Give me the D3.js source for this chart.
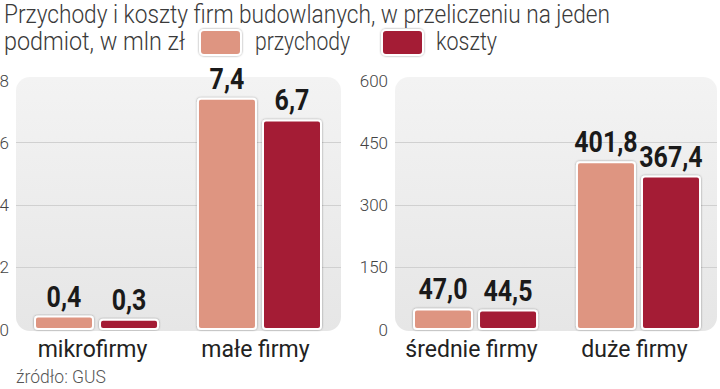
<!DOCTYPE html>
<html><head><meta charset="utf-8">
<script src="https://cdn.jsdelivr.net/npm/d3@7"></script>
<style>
body{margin:0;background:#fff;}
svg{display:block;}
</style></head>
<body><svg id="c" width="720" height="389"></svg>
<script>
const series = ["przychody", "koszty"];
const seriesColors = ["#de9581", "#a41c34"];
const leftCategories = ["mikrofirmy", "małe firmy"];
const leftPrzychody = [0.4, 7.4];
const leftKoszty = [0.3, 6.7];
const leftTicks = [0, 2, 4, 6, 8];
const rightCategories = ["średnie firmy", "duże firmy"];
const rightPrzychody = [47.0, 401.8];
const rightKoszty = [44.5, 367.4];
const rightTicks = [0, 150, 300, 450, 600];
const titleLine1 = "Przychody i koszty firm budowlanych, w przeliczeniu na jeden";
const titleLine2 = "podmiot, w mln zł";
const sourceText = "źródło: GUS";

const svg = d3.select("#c");
const FONT = "Roboto, 'Noto Sans', sans-serif";
const defs = svg.append("defs");
const grad = defs.append("linearGradient").attr("id","bg").attr("x1",0).attr("y1",0).attr("x2",0).attr("y2",1);
grad.append("stop").attr("offset","0%").attr("stop-color","#f3f3f3");
grad.append("stop").attr("offset","100%").attr("stop-color","#e6e6e6");
const sh = defs.append("filter").attr("id","sh").attr("x","-20%").attr("y","-20%").attr("width","140%").attr("height","140%");
sh.append("feDropShadow").attr("dx",0).attr("dy",0).attr("stdDeviation",0.9).attr("flood-color","#000").attr("flood-opacity",0.4);

function lightText(x, y, size, str, width, color){
  return svg.append("text").attr("x",x).attr("y",y).attr("font-family",FONT).attr("font-weight",300)
    .attr("font-size",size).attr("fill",color||"#3a3a3a")
    .attr("textLength",width).attr("lengthAdjust","spacingAndGlyphs").text(str);
}
// title
lightText(4, 23, 26, titleLine1, 606);
lightText(4, 50, 26, titleLine2, 181);
// legend
const legendX = [200, 382];
const legendW = [95, 61];
series.forEach((s,i)=>{
  svg.append("rect").attr("x",legendX[i]).attr("y",30).attr("width",41).attr("height",25).attr("rx",4)
    .attr("fill",seriesColors[i]).attr("stroke","#fff").attr("stroke-width",2).attr("filter","url(#sh)");
  lightText(legendX[i]+(i===0?55:54), 50, 26, s, legendW[i]);
});

function panel(opts){
  const {cats, vals, ticks, bgX0, bgX1, bandRange, tickX, fmt} = opts;
  const y = d3.scaleLinear().domain([ticks[0], ticks[ticks.length-1]]).range([329, 80]);
  const g = svg.append("g");
  g.append("rect").attr("x",bgX0).attr("y",77).attr("width",bgX1-bgX0).attr("height",254).attr("rx",14)
    .attr("fill","url(#bg)");
  g.selectAll("line.grid").data(ticks.slice(1,-1)).join("line")
    .attr("x1",bgX0).attr("x2",bgX1).attr("y1",d=>Math.round(y(d))+0.5).attr("y2",d=>Math.round(y(d))+0.5)
    .attr("stroke","#d0d0d0").attr("stroke-width",1);
  const axis = d3.axisLeft(y).tickValues(ticks).tickSize(0).tickPadding(0).tickFormat(d=>String(d));
  const ag = g.append("g").attr("transform",`translate(${tickX},0)`).call(axis);
  ag.select(".domain").remove();
  ag.selectAll("text").attr("font-family",FONT).attr("font-weight",300).attr("font-size",17)
    .attr("fill","#444").attr("dy","0.36em");
  const x0 = d3.scaleBand().domain(cats).range(bandRange).paddingInner(0.245).paddingOuter(0);
  const x1 = d3.scaleBand().domain(series).range([0, x0.bandwidth()]).paddingInner(0.108).paddingOuter(0);
  const data = [];
  cats.forEach((c,ci)=>series.forEach((s,si)=>data.push({c, s, si, v: vals[si][ci]})));
  g.selectAll("rect.bar").data(data).join("rect")
    .attr("x",d=>x0(d.c)+x1(d.s)).attr("width",x1.bandwidth())
    .attr("y",d=>y(d.v)).attr("height",d=>y(0)-y(d.v)).attr("rx",3)
    .attr("fill",d=>seriesColors[d.si]).attr("stroke","#fff").attr("stroke-width",2).attr("filter","url(#sh)");
  g.selectAll("text.val").data(data).join("text")
    .attr("x",d=>x0(d.c)+x1(d.s)+x1.bandwidth()/2).attr("y",d=>y(d.v)-10)
    .attr("text-anchor","middle").attr("font-family",FONT).attr("font-weight",700).attr("font-size",29)
    .attr("fill","#1a1a1a").text(d=>fmt(d.v))
    .each(function(){ const w = this.getComputedTextLength();
      d3.select(this).attr("textLength", w*0.86).attr("lengthAdjust","spacingAndGlyphs"); });
  g.selectAll("text.cat").data(cats).join("text")
    .attr("x",d=>x0(d)+x0.bandwidth()/2-4).attr("y",357).attr("text-anchor","middle")
    .attr("font-family",FONT).attr("font-size",23).attr("fill","#222").text(d=>d);
}
const fmt1 = v => d3.format(".1f")(v).replace(".", ",");
panel({cats:leftCategories, vals:[leftPrzychody,leftKoszty], ticks:leftTicks, bgX0:16, bgX1:341, bandRange:[35,321], tickX:9, fmt:fmt1});
panel({cats:rightCategories, vals:[rightPrzychody,rightKoszty], ticks:rightTicks, bgX0:395, bgX1:717, bandRange:[414,700], tickX:388, fmt:fmt1});

lightText(16, 383, 18, sourceText, 90, "#555");
</script></body></html>
